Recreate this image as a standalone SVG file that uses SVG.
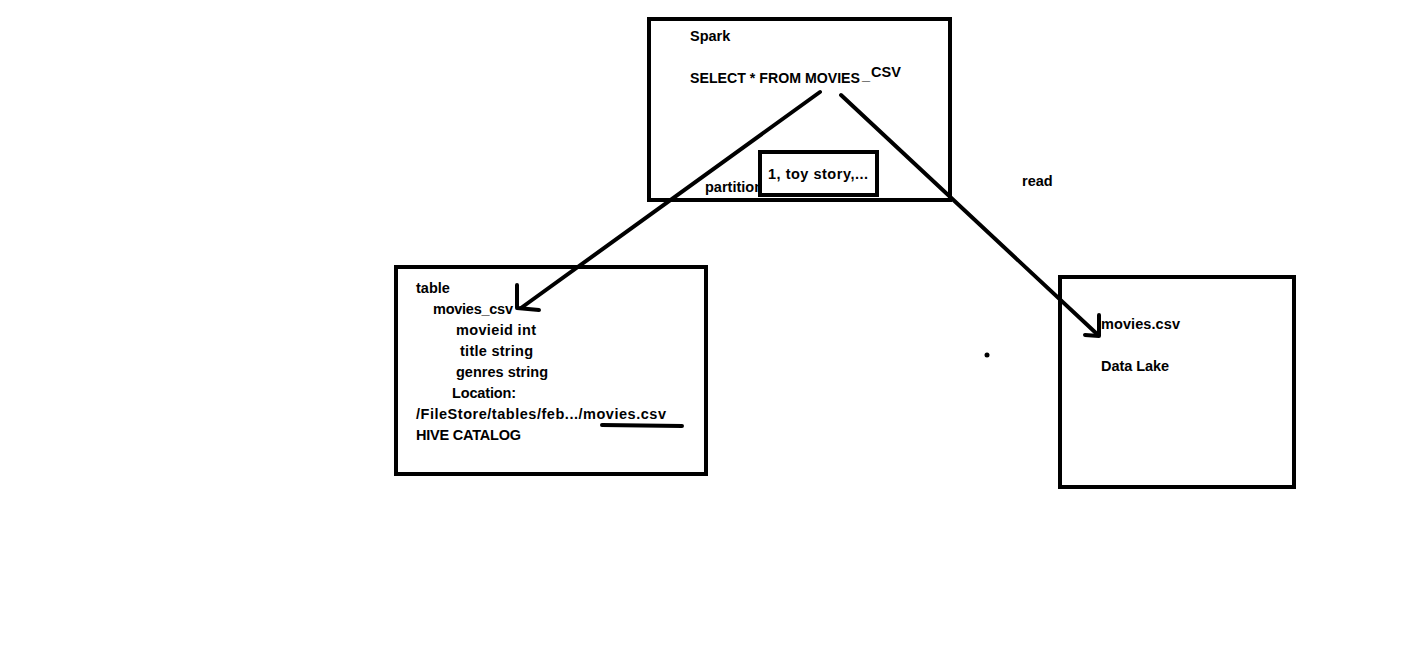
<svg xmlns="http://www.w3.org/2000/svg" width="1409" height="659" viewBox="0 0 1409 659">
<style>
.box{fill:none;stroke:#000;stroke-width:4}
.t{font-family:"Liberation Sans",Arial,sans-serif;font-weight:bold;font-size:14.5px;fill:#000}
.ln{fill:none;stroke:#000;stroke-width:4;stroke-linecap:round;stroke-linejoin:round}
</style>
<rect width="1409" height="659" fill="#fff"/>
<g id="spark">
<rect class="box" x="649" y="19" width="301" height="181"/>
<text class="t" x="690" y="41">Spark</text>
<text class="t" x="690" y="83" textLength="170" lengthAdjust="spacingAndGlyphs">SELECT * FROM MOVIES</text>
<text class="t" x="862" y="80">_</text>
<text class="t" x="871" y="77">CSV</text>
<text class="t" x="705" y="192">partition</text>
</g>
<g id="partition">
<rect class="box" x="760" y="152" width="117" height="43" style="fill:#fff"/>
<text class="t" x="768" y="179" textLength="100">1, toy story,...</text>
</g>
<g id="table">
<rect class="box" x="396" y="267" width="310" height="207"/>
<text class="t" x="416" y="293">table</text>
<text class="t" x="433" y="314" textLength="80">movies_csv</text>
<text class="t" x="456" y="335" textLength="80">movieid int</text>
<text class="t" x="460" y="356" textLength="73">title string</text>
<text class="t" x="456" y="377" textLength="92">genres string</text>
<text class="t" x="452" y="398" textLength="64">Location:</text>
<text class="t" x="416" y="419" textLength="250">/FileStore/tables/feb.../movies.csv</text>
<text class="t" x="416" y="440" textLength="105">HIVE CATALOG</text>
<path class="ln" d="M602 425 L682 426" stroke-width="3"/>
</g>
<g id="datalake">
<rect class="box" x="1060" y="277" width="234" height="210"/>
<text class="t" x="1101" y="329" textLength="79">movies.csv</text>
<text class="t" x="1101" y="371" textLength="68">Data Lake</text>
</g>
<g id="connectors">
<path class="ln" d="M820 92 L521 308"/>
<path class="ln" d="M517 285 L517 308 L539 310"/>
<path class="ln" d="M841 95 L1097 334"/>
<path class="ln" d="M1099 315 L1099 336 L1085 335"/>
<text class="t" x="1022" y="186">read</text>
</g>
<circle cx="987" cy="355" r="2.5" fill="#000"/>
</svg>
